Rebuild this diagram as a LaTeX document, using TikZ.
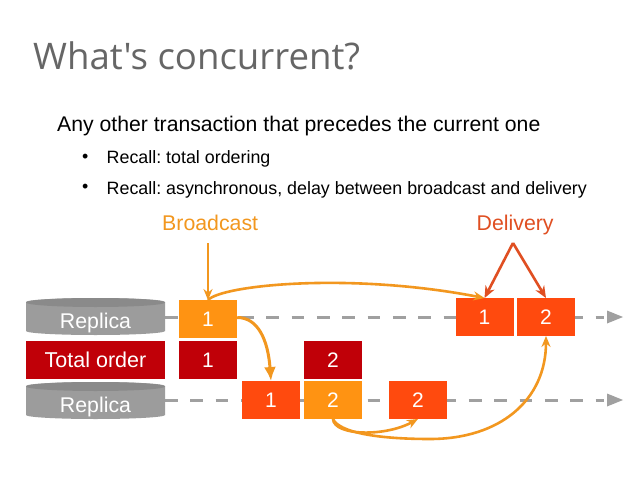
\documentclass[tikz,border=0pt]{standalone}
\usepackage{fontspec}
\setmainfont{Liberation Sans}
\newfontfamily\titlefont{Open Sans}
\usetikzlibrary{arrows.meta,shapes.geometric,calc}
\frenchspacing
\definecolor{cyl}{HTML}{9C9C9C}
\definecolor{cyltop}{HTML}{8A8A8A}
\definecolor{redbox}{HTML}{C00008}
\definecolor{orangebox}{HTML}{FF9312}
\definecolor{redorange}{HTML}{FF4A0E}
\definecolor{orangeline}{HTML}{F2971F}
\definecolor{delline}{HTML}{E04F22}
\definecolor{gtitle}{HTML}{666666}
\definecolor{dashg}{HTML}{A0A0A0}
\tikzset{
  x=1pt,y=-1pt,
  cell/.style={minimum width=58pt,minimum height=37.5pt,inner sep=0pt,text=white,font=\fontsize{21}{21}\selectfont,anchor=center},
  wide/.style={cell,minimum width=139pt},
  orl/.style={draw=orangeline,line width=2.6pt,-{Stealth[length=11pt,width=9pt]}},
  orlbig/.style={draw=orangeline,line width=3pt,-{Latex[length=14pt,width=12pt]}},
  dell/.style={draw=delline,line width=2.6pt,-{Stealth[length=12pt,width=10pt]}},
  timeline/.style={draw=dashg,line width=3pt,dash pattern=on 12.7pt off 12.63pt},
  tip/.style={fill=dashg,draw=none},
  lbl/.style={inner sep=0pt,anchor=base west,text=black},
  body/.style={lbl,font=\fontsize{17.85}{18}\selectfont\frenchspacing},
  big/.style={lbl,font=\fontsize{21.3}{22}\selectfont},
}
\begin{document}
\begin{tikzpicture}
\useasboundingbox (0,0) rectangle (638,479);
\fill[white] (0,0) rectangle (638,479);
% title and text
\node[lbl,text=gtitle,font=\titlefont\fontsize{36.6}{37}\selectfont] (title) at (33,69) {What's concurrent?};
\node[big,font=\fontsize{21.2}{22}\selectfont] (t1) at (57,131) {Any other transaction that precedes the current one};
\node[body] (b1) at (82,162) {•};
\node[body] (t2) at (106.5,163) {Recall: total ordering};
\node[body] (b2) at (82,192) {•};
\node[body] (t3) at (106.5,194) {Recall: asynchronous, delay between broadcast and delivery};
\node[big,text=orangeline] (bc) at (162,230) {Broadcast};
\node[big,text=delline] (dl) at (476.5,230) {Delivery};
% timeline ends
\coordinate (s1) at (165,317);
\coordinate (s2) at (165,400);
\coordinate (e1) at (604,317);
\coordinate (e2) at (604,400);
\draw[timeline] (s1) -- (e1);
\draw[timeline] (s2) -- (e2);
\fill[tip] (607,310.5) -- (623,317) -- (607,323.5) -- cycle;
\fill[tip] (607,393.5) -- (623,400) -- (607,406.5) -- cycle;
% cylinders
\foreach \yc/\nm in {298/ra,382/rb}{
  \fill[cyl] (26,\yc+4) arc[x radius=69.5,y radius=4,start angle=180,end angle=360] -- (165,\yc+33) arc[x radius=69.5,y radius=4,start angle=0,end angle=180] -- cycle;
  \fill[cyl] (26,\yc+4) -- (165,\yc+4) -- (165,\yc+8) -- (26,\yc+8) -- cycle;
  \fill[cyltop] (95.5,\yc+4.5) ellipse[x radius=69.5,y radius=4.5];
}
\node[big,anchor=base,text=white] (ra) at (95.5,328) {Replica};
\node[big,anchor=base,text=white] (rb) at (95.5,412) {Replica};
% boxes
\node[wide,fill=redbox,font=\fontsize{21.5}{22}\selectfont] (to) at (95.5,360) {Total order};
\node[cell,fill=orangebox] (a1) at (208,319) {1};
\node[cell,fill=redbox] (o1) at (208,360) {1};
\node[cell,fill=redbox] (o2) at (333,360) {2};
\node[cell,fill=redorange] (b1b) at (271,400) {1};
\node[cell,fill=orangebox] (a2) at (333,400) {2};
\node[cell,fill=redorange] (c2) at (418,400) {2};
\node[cell,fill=redorange] (d1) at (484.5,317) {1};
\node[cell,fill=redorange] (d2) at (546,317) {2};
% connectors
\coordinate (bcs) at (208,243);
\coordinate (dls) at (513,243);
\draw[orl,line width=2.8pt] (bcs) -- (a1.north);
\draw[orl] (a1.north) .. controls (222,285) and (350,272) .. (d1.north);
\draw[orlbig] (a1.east) ++(0,-1.5) .. controls (258,317.5) and (268,340) .. (b1b.north);
\draw[orl] (a2.south) .. controls (334,436) and (385,437) .. (c2.south);
\draw[orl] (a2.south) .. controls (339,432) and (375,439) .. (430,439) .. controls (500,439) and (546,400) .. (d2.south);
\draw[dell] (dls) -- (d1.north);
\draw[dell] (dls) -- (d2.north);
\end{tikzpicture}
\end{document}
